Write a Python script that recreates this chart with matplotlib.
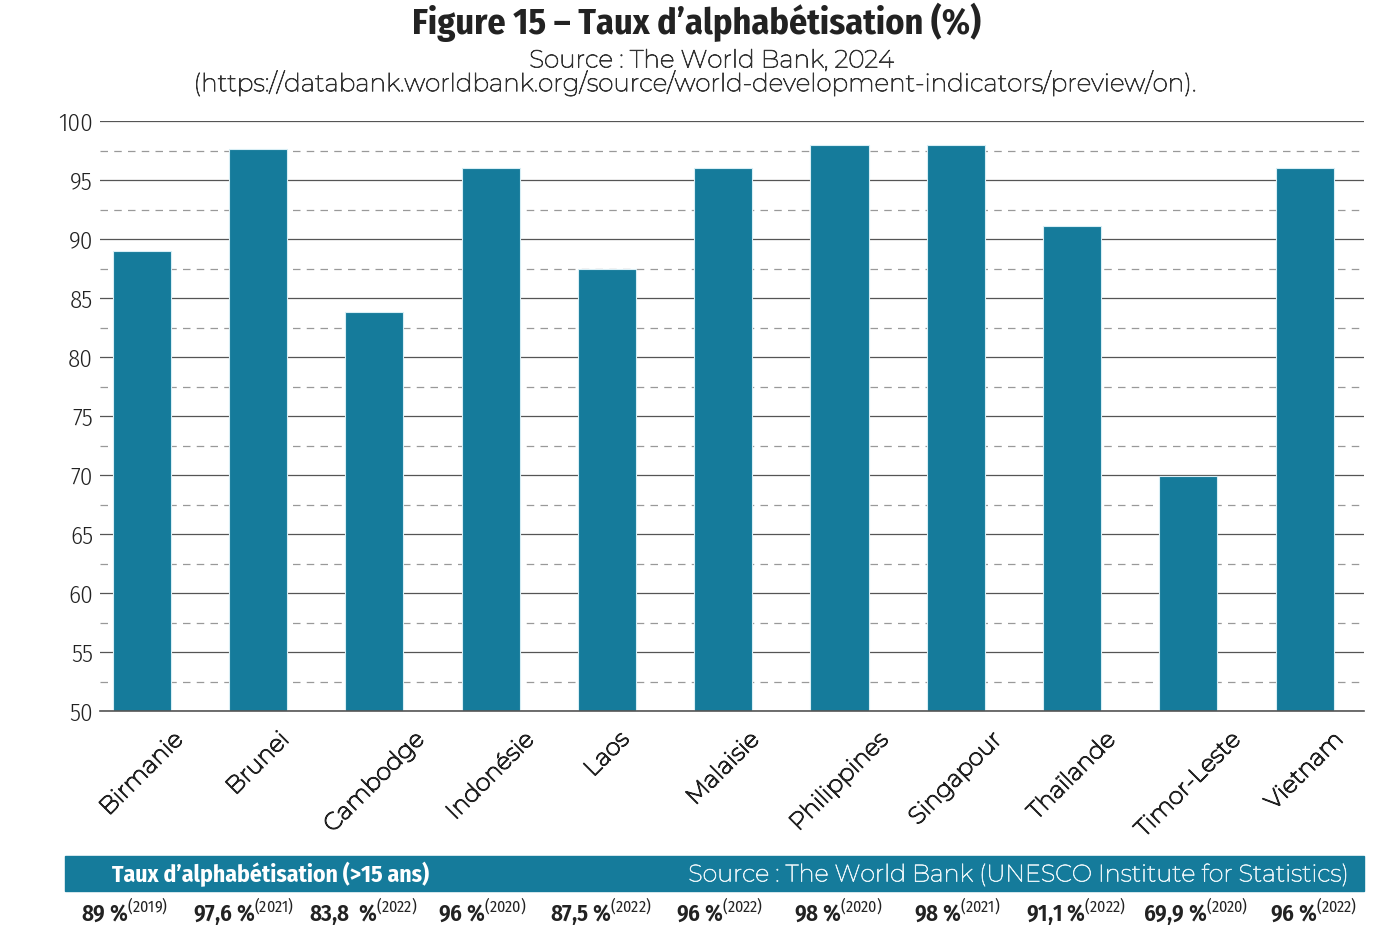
import numpy as np
import matplotlib
matplotlib.use("Agg")
import matplotlib.pyplot as plt
import matplotlib.patheffects as pe
from matplotlib.patches import Rectangle

# data
countries = ["Birmanie", "Brunei", "Cambodge", "Indonésie", "Laos", "Malaisie",
             "Philippines", "Singapour", "Thaïlande", "Timor-Leste", "Vietnam"]
rates = [89, 97.6, 83.8, 96, 87.5, 96, 98, 98, 91.1, 69.9, 96]
rate_labels = ["89 %", "97,6 %", "83,8  %", "96 %", "87,5 %", "96 %",
               "98 %", "98 %", "91,1 %", "69,9 %", "96 %"]
years = ["2019", "2021", "2022", "2020", "2022", "2022",
         "2020", "2021", "2022", "2020", "2022"]
yticks = [50, 55, 60, 65, 70, 75, 80, 85, 90, 95, 100]

BLUE = "#157b9b"
COND = ["Fira Sans Condensed", "DejaVu Sans"]
GEO = ["Montserrat", "Lato", "DejaVu Sans"]


def thicken(w, c):
    # Montserrat here is the thin instance, so give it some body
    return [pe.withStroke(linewidth=w, foreground=c)]


plt.rcParams["mathtext.fontset"] = "custom"
plt.rcParams["mathtext.rm"] = "Fira Sans Condensed"

fig = plt.figure(figsize=(13.94, 9.53), dpi=100)
ax = fig.add_axes([100 / 1394, 241 / 953, 1264 / 1394, 590 / 953])

x = np.arange(len(countries))
ax.bar(x, rates, width=0.5, color=BLUE, edgecolor="#d8eef5",
       linewidth=0.8, zorder=3)

ax.set_ylim(50, 100)
ax.set_xlim(-0.36, 10.51)
ax.set_yticks(yticks)
ax.set_yticklabels([str(v) for v in yticks], family=COND, fontsize=18,
                   fontweight=300, color="#222222")
for v in yticks:
    ax.axhline(v, color="#555555", lw=0.9, zorder=1)
for v in np.arange(52.5, 100, 5):
    ax.axhline(v, color="#999999", lw=0.9, ls=(0, (6, 5)), zorder=1)

ax.set_xticks(x)
ax.set_xticklabels(countries, rotation=45, ha="center", family=GEO,
                   fontsize=17, color="#222222",
                   path_effects=thicken(1.0, "#222222"))
for lab in ax.get_xticklabels():
    lab.set_x(lab.get_position()[0])
ax.tick_params(length=0)
ax.tick_params(axis="y", pad=5)
ax.tick_params(axis="x", pad=12)
for side in ["top", "right", "left"]:
    ax.spines[side].set_visible(False)
ax.spines["bottom"].set_color("#555555")
ax.spines["bottom"].set_linewidth(1.2)
ax.spines["bottom"].set_zorder(4)

# titles
fig.text(0.5, 1 - 22 / 953, "Figure 15 – Taux d’alphabétisation (%)",
         ha="center", va="center", family=COND, fontsize=26,
         fontweight="bold", color="#222222")
fig.text(0.511, 1 - 62 / 953, "Source : The World Bank, 2024",
         ha="center", va="center", family=GEO, fontsize=17.8,
         color="#333333", path_effects=thicken(0.6, "#333333"))
fig.text(0.4995, 1 - 84 / 953,
         "(https://databank.worldbank.org/source/world-development-indicators/preview/on).",
         ha="center", va="center", family=GEO, fontsize=17.8,
         color="#333333", path_effects=thicken(0.6, "#333333"))

# bottom band
fig.patches.append(Rectangle((65 / 1394, 61 / 953), 1299 / 1394, 35 / 953,
                             transform=fig.transFigure, color=BLUE, zorder=0))
fig.text(112 / 1394, 1 - 874 / 953, "Taux d’alphabétisation (>15 ans)",
         ha="left", va="center", family=COND, fontsize=17,
         fontweight="bold", color="white")
fig.text(1348 / 1394, 1 - 876 / 953,
         "Source : The World Bank (UNESCO Institute for Statistics)",
         ha="right", va="center", family=GEO, fontsize=17.2,
         color="#e6f2f6", path_effects=thicken(0.5, "#e6f2f6"))

# values row, evenly spaced under the band
for i, (lab, yr) in enumerate(zip(rate_labels, years)):
    fig.text((125 + i * 118.9) / 1394, 1 - 912 / 953,
             lab + r"$^{\mathrm{(" + yr + ")}}$",
             ha="center", va="center", family=COND, fontsize=16.5,
             fontweight=600, color="#222222")

fig.savefig("out.png", dpi=100)
